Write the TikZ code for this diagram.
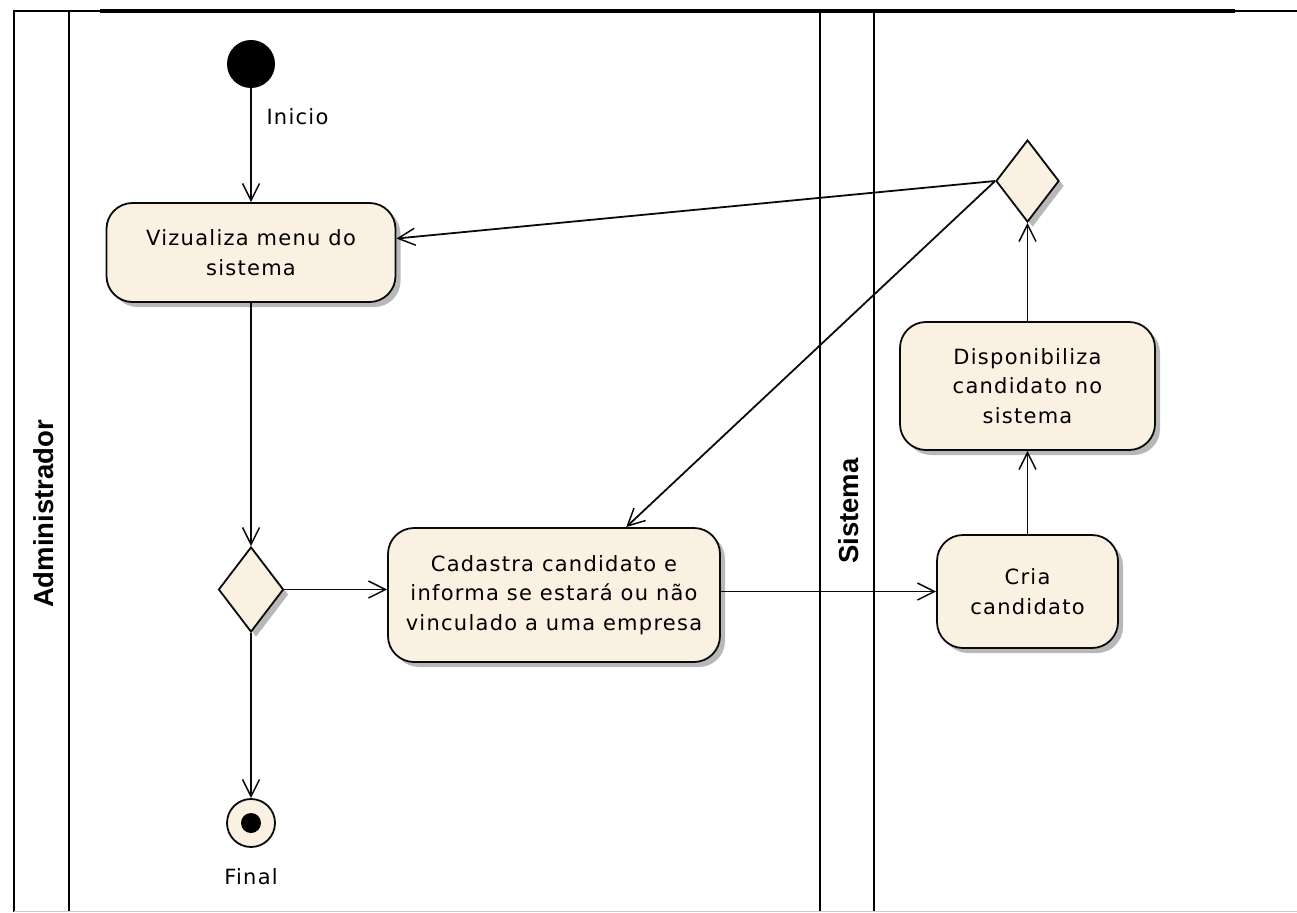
\documentclass[tikz,border=0pt]{standalone}
\usepackage{fontspec}
\usetikzlibrary{arrows.meta,shapes.geometric,shadows}
\newfontfamily\uifont{DejaVu Sans}[LetterSpace=6]
\newfontfamily\lanefont{Liberation Sans}

\definecolor{actfill}{HTML}{FBF1E3}
\definecolor{inkline}{HTML}{0A0A0A}

\tikzset{
  shade box/.style={drop shadow={shadow xshift=5pt,shadow yshift=-5pt,fill=black!28,opacity=1}},
  action/.style={draw=inkline,line width=1.8pt,fill=actfill,rounded corners=26pt,
    align=center,inner sep=0pt,shade box,
    font=\uifont\fontsize{21}{29.5}\selectfont,text=black},
  choice/.style={diamond,draw=inkline,line width=1.8pt,fill=actfill,inner sep=0pt,shade box},
  flow/.style={draw=inkline,line width=1.8pt,
    -{Straight Barb[length=17pt,width=17pt,line width=1.5pt]}},
  lane/.style={draw=black,line width=2.4pt},
  lanelabel/.style={font=\lanefont\bfseries\fontsize{27.5}{30}\selectfont,rotate=90},
  plainlabel/.style={font=\uifont\fontsize{21}{26}\selectfont,text=black},
}

\begin{document}
\begin{tikzpicture}[x=1pt,y=-1pt]
  \useasboundingbox (0,0) rectangle (1297,912);

  % swimlane frame
  \draw[line width=2.4pt] (14,11) -- (1297,11);
  \draw[line width=3.4pt] (100,11) -- (1235,11);
  \draw[lane] (14,10) -- (14,912);
  \draw[lane] (69,10) -- (69,912);
  \draw[lane] (820,10) -- (820,912);
  \draw[lane] (874,10) -- (874,912);
  \draw[black!20,line width=1pt] (14,911.5) -- (1297,911.5);

  \node[lanelabel] (laneA) at (44,514) {Administrador};
  \node[lanelabel] (laneS) at (849,511) {Sistema};

  % activities
  \node[circle,fill=black,minimum size=48pt,inner sep=0pt] (start) at (251,64) {};
  \node[plainlabel,anchor=west] (startlbl) at (263,117) {Inicio};

  \node[action,minimum width=289pt,minimum height=99pt] (menu) at (251,252.5)
    {Vizualiza menu do\\sistema};

  \node[choice,minimum width=65pt,minimum height=85pt] (dec1) at (251,589.5) {};

  \node[action,minimum width=332pt,minimum height=134pt] (cad) at (554,595)
    {Cadastra candidato e\\informa se estará ou não\\vinculado a uma empresa};

  \node[action,minimum width=181pt,minimum height=113pt] (cria) at (1027.5,591.5)
    {Cria\\candidato};

  \node[action,minimum width=255pt,minimum height=128pt] (disp) at (1027.5,386)
    {Disponibiliza\\candidato no\\sistema};

  \node[choice,minimum width=63pt,minimum height=82pt] (dec2) at (1027.5,181) {};

  \node[circle,draw=inkline,line width=1.8pt,fill=actfill,minimum size=48pt,inner sep=0pt] (end) at (251,823) {};
  \node[circle,fill=black,minimum size=20pt,inner sep=0pt] (enddot) at (end.center) {};
  \node[plainlabel] (endlbl) at (251,877) {Final};

  % control flows
  \draw[flow] (start) -- (menu);
  \draw[flow] (menu) -- (dec1);
  \draw[flow] (dec1) -- (end);
  \draw[flow] (dec1.east) -- (dec1.east -| cad.west);
  \draw[flow] (cria.west -| cad.east) -- (cria.west);
  \draw[flow] (cria) -- (disp);
  \draw[flow] (disp) -- (dec2);
  \draw[flow] (dec2.west) -- (menu);
  \draw[flow] (dec2.west) -- (cad);
\end{tikzpicture}
\end{document}
